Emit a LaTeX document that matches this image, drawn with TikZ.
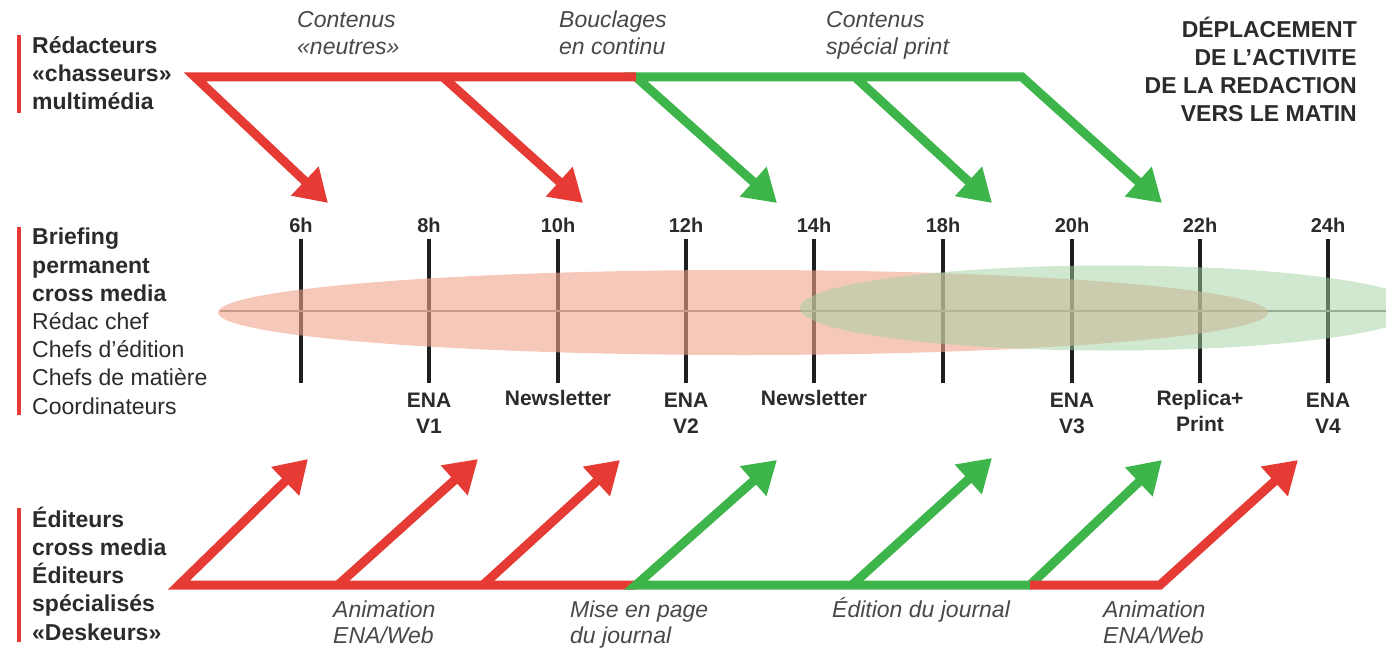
\documentclass[tikz,border=0pt]{standalone}
\usepackage{fontspec}
\setmainfont{Liberation Sans}
\usetikzlibrary{arrows.meta}
\definecolor{ared}{RGB}{230,59,53}
\definecolor{agreen}{RGB}{61,181,75}
\definecolor{salm}{RGB}{238,163,138}
\definecolor{pale}{RGB}{161,209,161}
\definecolor{txt}{RGB}{43,43,43}
\definecolor{itx}{RGB}{72,72,72}
\definecolor{axisc}{RGB}{140,140,140}
\tikzset{
  flow/.style={line width=9pt, line join=miter, line cap=butt},
  redflow/.style={flow, draw=ared},
  greenflow/.style={flow, draw=agreen},
  hd/.style={-{Triangle[length=32pt,width=38pt]}},
  hdstart/.style={{Triangle[length=32pt,width=38pt]}-},
  hdboth/.style={{Triangle[length=32pt,width=38pt]}-{Triangle[length=32pt,width=38pt]}},
  hourbar/.style={draw=black!88, line width=4pt},
  hourlbl/.style={anchor=base, inner sep=0pt, text=txt, font=\fontsize{20}{24}\selectfont\bfseries},
  evlbl/.style={anchor=base, inner sep=0pt, align=center, text=txt, font=\fontsize{21}{26}\selectfont\bfseries},
  grplbl/.style={anchor=base west, inner sep=0pt, align=left, text=txt, font=\fontsize{23}{28.2}\selectfont\bfseries},
  phaselbl/.style={anchor=base west, inner sep=0pt, align=left, text=itx, font=\fontsize{23}{27}\selectfont\itshape},
  lowphase/.style={anchor=base west, inner sep=0pt, align=left, text=itx, font=\fontsize{23}{25.5}\selectfont\itshape},
  sidebar/.style={draw=ared, line width=3.5pt},
}
\begin{document}
\begin{tikzpicture}[x=1pt,y=-1pt]
\useasboundingbox (0,0) rectangle (1386,650);

% side bars
\draw[sidebar] (19,35) coordinate (s1a) -- (19,113) coordinate (s1b);
\draw[sidebar] (19,227) coordinate (s2a) -- (19,415) coordinate (s2b);
\draw[sidebar] (19,508) coordinate (s3a) -- (19,642) coordinate (s3b);

% group labels (anchored at the baseline of their last line)
\node[grplbl] (g1) at (32,110) {Rédacteurs\\«chasseurs»\\multimédia};
\node[grplbl] (g2) at (32,414) {Briefing\\permanent\\cross media\\\mdseries Rédac chef\\\mdseries Chefs d’édition\\\mdseries Chefs de matière\\\mdseries Coordinateurs};
\node[grplbl] (g3) at (32,640) {Éditeurs\\cross media\\Éditeurs\\spécialisés\\«Deskeurs»};

% title
\node[grplbl, anchor=base east, align=right] (title) at (1357,122) {DÉPLACEMENT\\DE L’ACTIVITE\\DE LA REDACTION\\VERS LE MATIN};

% hour bars
\foreach \x/\h [count=\i] in {301/6h,429/8h,558/10h,686/12h,814/14h,943/18h,1072/20h,1200/22h,1328/24h}{
  \draw[hourbar] (\x,239) coordinate (bt\i) -- (\x,383) coordinate (bb\i);
  \node[hourlbl] (h\i) at (\x,232) {\h};
}
% axis line
\coordinate (ax0) at (220,311);
\coordinate (ax1) at (1386,311);
\draw[axisc, line width=2pt] (ax0) -- (ax1);

% activity ellipses
\begin{scope}
\clip (0,0) rectangle (1386,650);
\fill[salm, fill opacity=0.6] (743,312.5) ellipse [x radius=525, y radius=42.5];
\fill[pale, fill opacity=0.5] (1110,308) ellipse [x radius=310, y radius=42.5];
\end{scope}

% event labels
\node[evlbl] (e2) at (429,433) {ENA\\V1};
\node[evlbl] (e3) at (558,405) {Newsletter};
\node[evlbl] (e4) at (686,433) {ENA\\V2};
\node[evlbl] (e5) at (814,405) {Newsletter};
\node[evlbl] (e7) at (1072,433) {ENA\\V3};
\node[evlbl] (e8) at (1200,431) {Replica+\\Print};
\node[evlbl] (e9) at (1328,433) {ENA\\V4};

% top phases
\node[phaselbl] (p1) at (297,55) {Contenus\\«neutres»};
\node[phaselbl] (p2) at (559,55) {Bouclages\\en continu};
\node[phaselbl] (p3) at (826,55) {Contenus\\spécial print};

% top flows
\coordinate (t0) at (195,77);
\coordinate (t1) at (443,77);
\coordinate (t2) at (636,77);
\coordinate (t3) at (855,77);
\coordinate (t4) at (1022,77);
\coordinate (ta1) at (328,203);
\coordinate (ta2) at (583,203);
\coordinate (ta3) at (777,203);
\coordinate (ta4) at (992,203);
\coordinate (ta5) at (1162,203);
\draw[greenflow, hd] (t3) -- (ta4);
\draw[greenflow, hdboth] (ta3) -- (t2) -- (t4) -- (ta5);
\draw[redflow, hd] (t1) -- (ta2);
\draw[redflow, hdstart] (ta1) -- (t0) -- (t2);

% bottom flows
\coordinate (u0) at (179,585);
\coordinate (u1) at (338,585);
\coordinate (u2) at (483,585);
\coordinate (u3) at (636,585);
\coordinate (u4) at (852,585);
\coordinate (u5) at (1030,585);
\coordinate (u6) at (1160,585);
\coordinate (ua1) at (308,459);
\coordinate (ua2) at (478,459);
\coordinate (ua3) at (620,460);
\coordinate (ua4) at (777,460);
\coordinate (ua5) at (992,458);
\coordinate (ua6) at (1162,460);
\coordinate (ua7) at (1298,460);
\draw[redflow, hd] (u1) -- (ua2);
\draw[redflow, hd] (u2) -- (ua3);
\draw[redflow, hdstart] (ua1) -- (u0) -- (u3);
\draw[greenflow, hd] (u4) -- (ua5);
\draw[greenflow, hdboth] (ua4) -- (u3) -- (u5) -- (ua6);
\draw[redflow, hd] (u5) -- (u6) -- (ua7);

% bottom phases
\node[lowphase] (q1) at (333,643) {Animation\\ENA/Web};
\node[lowphase] (q2) at (570,643) {Mise en page\\du journal};
\node[lowphase] (q3) at (832,617) {Édition du journal};
\node[lowphase] (q4) at (1103,643) {Animation\\ENA/Web};
\end{tikzpicture}
\end{document}
